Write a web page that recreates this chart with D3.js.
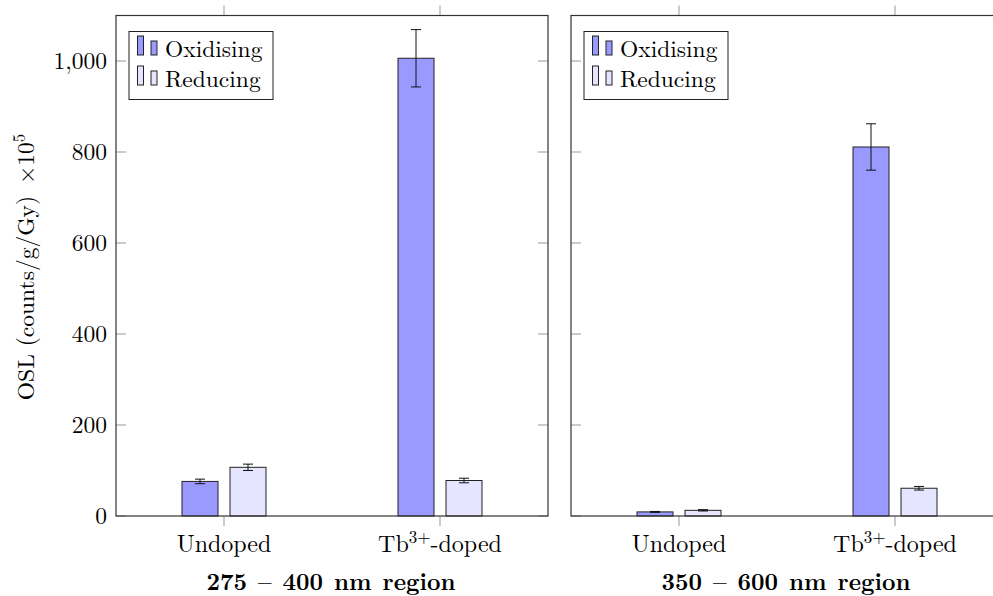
<!DOCTYPE html>
<html>
<head>
<meta charset="utf-8">
<script src="https://cdn.jsdelivr.net/npm/d3@7/dist/d3.min.js"></script>
<style>
  html, body { margin: 0; padding: 0; background: #fff; }
  svg { display: block; }
</style>
</head>
<body>
<svg id="chart" width="993" height="596"></svg>
<script>
// Categories along the x axis: [base, superscript, suffix]
const categories = ["Undoped", "Tb3+-doped"];
const categoryLabels = [["Undoped", "", ""], ["Tb", "3+", "-doped"]];
const seriesNames = ["Oxidising", "Reducing"];
const seriesColors = ["#9999ff", "#e5e5ff"];
const panelTitles = ["275 \u2013 400 nm region", "350 \u2013 600 nm region"];

// OSL values (counts/g/Gy ×10^5) and their uncertainties
const oxidising275 = [76, 1006];
const oxidisingErr275 = [5, 63];
const reducing275 = [107, 78];
const reducingErr275 = [7, 5];

const oxidising350 = [9, 811];
const oxidisingErr350 = [1, 51];
const reducing350 = [12.5, 61];
const reducingErr350 = [1.5, 4];

const yTicks = [0, 200, 400, 600, 800, 1000];
const yMax = 1100;

const panels = [
  { title: panelTitles[0], left: 116, values: [oxidising275, reducing275], errors: [oxidisingErr275, reducingErr275], tickLabels: true },
  { title: panelTitles[1], left: 571, values: [oxidising350, reducing350], errors: [oxidisingErr350, reducingErr350], tickLabels: false }
];

const FONT = "Latin Modern Roman";
const svg = d3.select("#chart");
const plotTop = 15.5, plotBottom = 516, panelWidth = 432;
const fontSize = 23.5;

const y = d3.scaleLinear().domain([0, yMax]).range([plotBottom, plotTop]);
const fmt = d3.format(",");

function label(sel) {
  return sel.append("text").attr("font-family", FONT).attr("fill", "#000");
}

panels.forEach(p => {
  const g = svg.append("g");
  const x0 = d3.scaleBand().domain(categories).range([p.left, p.left + panelWidth]).padding(0);
  const x1 = d3.scaleBand().domain(seriesNames).range([-42, 42]).paddingInner(0.25).paddingOuter(0);

  // bars with error bars
  seriesNames.forEach((s, si) => {
    categories.forEach((c, ci) => {
      const cx = x0(c) + x0.bandwidth() / 2;
      const v = p.values[si][ci];
      const e = p.errors[si][ci];
      g.append("rect")
        .attr("x", cx + x1(s))
        .attr("y", y(v))
        .attr("width", x1.bandwidth())
        .attr("height", y(0) - y(v))
        .attr("fill", seriesColors[si])
        .attr("stroke", "#222")
        .attr("stroke-width", 1);
      const bx = cx + x1(s) + x1.bandwidth() / 2;
      g.append("line").attr("x1", bx).attr("x2", bx).attr("y1", y(v + e)).attr("y2", y(v - e))
        .attr("stroke", "#111").attr("stroke-width", 1);
      [v + e, v - e].forEach(t => {
        g.append("line").attr("x1", bx - 5).attr("x2", bx + 5).attr("y1", y(t)).attr("y2", y(t))
          .attr("stroke", "#111").attr("stroke-width", 1);
      });
    });
  });

  // y ticks (inside, both sides)
  yTicks.forEach(t => {
    g.append("line").attr("x1", p.left).attr("x2", p.left + 10).attr("y1", y(t)).attr("y2", y(t))
      .attr("stroke", "#999").attr("stroke-width", 1);
    g.append("line").attr("x1", p.left + panelWidth - 10).attr("x2", p.left + panelWidth).attr("y1", y(t)).attr("y2", y(t))
      .attr("stroke", "#999").attr("stroke-width", 1);
    if (p.tickLabels) {
      label(g).attr("x", p.left - 9).attr("y", y(t) + 8)
        .attr("text-anchor", "end").attr("font-size", fontSize).text(fmt(t));
    }
  });

  // x ticks (outside, top and bottom) and category labels
  categories.forEach((c, ci) => {
    const cx = x0(c) + x0.bandwidth() / 2;
    g.append("line").attr("x1", cx).attr("x2", cx).attr("y1", plotBottom).attr("y2", plotBottom + 10)
      .attr("stroke", "#999").attr("stroke-width", 1);
    g.append("line").attr("x1", cx).attr("x2", cx).attr("y1", plotTop - 10).attr("y2", plotTop)
      .attr("stroke", "#999").attr("stroke-width", 1);
    const lab = categoryLabels[ci];
    const t = label(g).attr("x", cx).attr("y", 552).attr("text-anchor", "middle").attr("font-size", 24);
    t.append("tspan").text(lab[0]);
    if (lab[1]) {
      t.append("tspan").attr("dy", -9).attr("font-size", 17).text(lab[1]);
      t.append("tspan").attr("dy", 9).text(lab[2]);
    }
  });

  // frame
  g.append("rect").attr("x", p.left).attr("y", plotTop).attr("width", panelWidth).attr("height", plotBottom - plotTop)
    .attr("fill", "none").attr("stroke", "#333").attr("stroke-width", 1.2);

  // panel title
  label(g).attr("x", p.left + panelWidth / 2 - 1).attr("y", 590)
    .attr("text-anchor", "middle").attr("font-size", fontSize).attr("font-weight", "bold")
    .attr("word-spacing", 2).text(p.title);

  // legend
  const lg = g.append("g").attr("transform", `translate(${p.left + 13},31.5)`);
  lg.append("rect").attr("width", 144).attr("height", 68).attr("fill", "#fff").attr("stroke", "#222").attr("stroke-width", 1);
  seriesNames.forEach((s, si) => {
    const ry = 4.5 + si * 30;
    lg.append("rect").attr("x", 8.5).attr("y", ry).attr("width", 6).attr("height", 19)
      .attr("fill", seriesColors[si]).attr("stroke", "#222").attr("stroke-width", 1);
    lg.append("rect").attr("x", 22).attr("y", ry + 5).attr("width", 6).attr("height", 14)
      .attr("fill", seriesColors[si]).attr("stroke", "#222").attr("stroke-width", 1);
    label(lg).attr("x", 36).attr("y", ry + 21).attr("font-size", fontSize).text(s);
  });
});

// y axis title
const yt = label(svg).attr("transform", "translate(34,267) rotate(-90)")
  .attr("text-anchor", "middle").attr("font-size", 23.5);
yt.append("tspan").text("OSL (counts/g/Gy)\u2002\u00d710");
yt.append("tspan").attr("dy", -9).attr("font-size", 17).text("5");
</script>
</body>
</html>
